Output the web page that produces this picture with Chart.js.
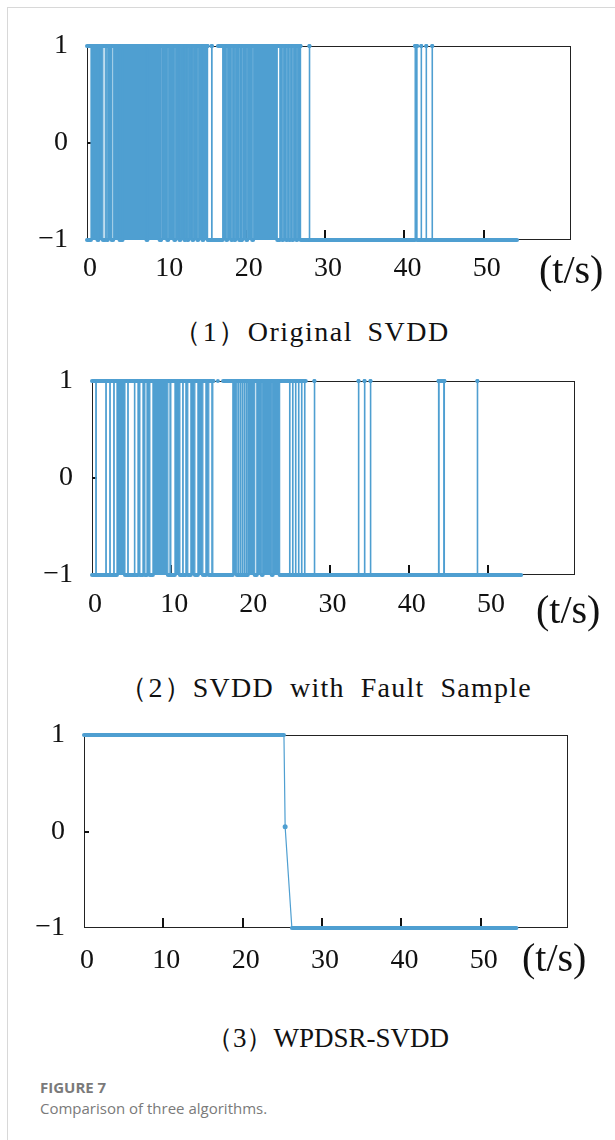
<!DOCTYPE html>
<html>
<head>
<meta charset="utf-8">
<script src="https://cdn.jsdelivr.net/npm/chart.js@4.4.1/dist/chart.umd.min.js"></script>
<style>
  body { margin: 0; width: 615px; height: 1140px; background: #fff; position: relative; overflow: hidden;
         font-family: "Liberation Serif", "Times New Roman", serif; color: #111; }
  .frame { position: absolute; left: 7px; top: 7px; width: 700px; height: 1200px;
           border-left: 1px solid #d8d8d8; border-top: 1px solid #d8d8d8; }
  canvas { position: absolute; left: 0; }
  .unit { position: absolute; font-size: 40px; line-height: 1; }
  .cap  { position: absolute; width: 615px; text-align: center; font-size: 28px; line-height: 1; white-space: pre; }
  .fig  { position: absolute; left: 40px; font-family: "Open Sans", "Noto Sans", sans-serif; color: #7a7a7a; font-size: 15px; }
</style>
</head>
<body>
<div class="frame"></div>

<canvas id="c1" width="615" height="300" style="top:0px"></canvas>
<div class="unit" style="left:539px;top:250px">(t/s)</div>
<div class="cap" style="left:4px;top:318px;letter-spacing:1.5px;word-spacing:6px">（1）Original SVDD</div>

<canvas id="c2" width="615" height="300" style="top:340px"></canvas>
<div class="unit" style="left:536px;top:590px">(t/s)</div>
<div class="cap" style="left:18px;top:674px;letter-spacing:1.2px;word-spacing:8px">（2）SVDD with Fault Sample</div>

<canvas id="c3" width="615" height="300" style="top:690px"></canvas>
<div class="unit" style="left:522px;top:938px">(t/s)</div>
<div class="cap" style="left:20px;top:1025px;font-size:27px">（3）WPDSR-SVDD</div>

<div class="fig" style="top:1077px;font-weight:700">FIGURE 7</div>
<div class="fig" style="top:1098px">Comparison of three algorithms.</div>

<script>
const X_TICKS = [0, 10, 20, 30, 40, 50];
const Y_TICKS = [-1, 0, 1];
const X_MAX = 61;

// (1) Original SVDD: intervals where the output is +1
const SVDD_RUNS = [
  [0.50, 1.32], [1.45, 2.00], [2.30, 2.50], [2.62, 3.10], [3.30, 4.10], [4.22, 4.35], [4.48, 7.50],
  [7.62, 9.15], [9.28, 9.33], [9.45, 10.12], [10.24, 11.00], [11.12, 11.65], [11.77, 12.28],
  [12.40, 12.65], [12.77, 13.28], [13.40, 13.90], [14.02, 14.55], [14.67, 15.20], [15.70, 15.76],
  [17.10, 17.55], [17.67, 18.18], [18.30, 18.57], [18.69, 19.18], [19.30, 19.36], [19.48, 19.54],
  [19.66, 20.08], [20.20, 20.82], [20.94, 23.98], [24.30, 24.60], [24.72, 25.10], [25.22, 25.48],
  [25.60, 25.86], [25.98, 26.38], [26.50, 26.92], [28.02, 28.07],
  [41.35, 41.60], [42.12, 42.16], [42.75, 42.79], [43.50, 43.54]
];
const SVDD_TOP = [[0, 15.2], [15.72, 15.74], [16.5, 26.9], [28.05, 28.06],
  [41.35, 41.6], [42.14, 42.15], [42.77, 42.78], [43.52, 43.53]];
const SVDD_END = 54.2;

// (2) SVDD with fault sample
const FAULT_RUNS = [
  [0.48, 0.54], [1.75, 1.80], [2.25, 2.30], [2.75, 2.80], [3.15, 4.16], [4.52, 4.57], [5.36, 5.41],
  [5.80, 6.05], [6.43, 6.68], [6.94, 7.31], [7.69, 9.58], [9.84, 9.96], [10.47, 11.10], [11.46, 11.51],
  [11.85, 12.10], [12.48, 12.99], [13.37, 14.00], [14.38, 14.75], [15.13, 15.26],
  [17.78, 18.29], [18.45, 18.50], [18.70, 18.75], [18.95, 19.00], [19.20, 19.25], [19.45, 19.50],
  [19.67, 20.55], [20.81, 21.44], [21.56, 22.70], [22.82, 23.70], [24.95, 25.00], [25.33, 25.38],
  [25.70, 25.75], [26.08, 26.13], [26.46, 26.51], [26.84, 26.89], [28.08, 28.13],
  [33.65, 33.70], [34.41, 34.46], [35.16, 35.21], [43.76, 43.84], [44.42, 44.51], [48.66, 48.71]
];
const FAULT_TOP = [[0, 15.35], [15.9, 15.91], [16.55, 27.0], [28.1, 28.11], [33.67, 33.68],
  [34.43, 34.44], [35.18, 35.19], [43.78, 44.5], [48.68, 48.69]];
const FAULT_END = 54.2;

// (3) WPDSR-SVDD
const WPDSR_T = [0, 25.2, 25.35, 26.2, 54.5];
const WPDSR_Y = [1, 1, 0.05, -1, -1];

const BLUE = "#4f9fd1";
const FONT = "'Liberation Serif', 'Times New Roman', serif";

function runsToPoints(runs, end) {
  const pts = [{ x: 0, y: -1 }];
  runs.forEach(([a, b]) => {
    pts.push({ x: a, y: -1 }, { x: a, y: 1 }, { x: b, y: 1 }, { x: b, y: -1 });
  });
  pts.push({ x: end, y: -1 });
  return pts;
}

function bandsToPoints(bands) {
  const pts = [];
  bands.forEach(([a, b]) => pts.push({ x: a, y: 1 }, { x: b, y: 1 }, { x: b, y: null }));
  return pts;
}

const boxPlugin = {
  id: "box",
  beforeDatasetsDraw(chart) {
    const { ctx, chartArea: a, scales } = chart;
    ctx.save();
    ctx.strokeStyle = "#222";
    ctx.lineWidth = 1;
    ctx.strokeRect(a.left + 0.5, a.top + 0.5, a.width - 1, a.height - 1);
    ctx.lineWidth = 2;
    ctx.strokeStyle = "#111";
    ctx.beginPath();
    X_TICKS.forEach(v => {
      if (v === 0) return;
      const x = Math.round(scales.x.getPixelForValue(v));
      ctx.moveTo(x, a.bottom);
      ctx.lineTo(x, a.bottom - 10);
    });
    const y0 = Math.round(scales.y.getPixelForValue(0));
    ctx.moveTo(a.left, y0);
    ctx.lineTo(a.left + 5, y0);
    ctx.stroke();
    ctx.restore();
  }
};

function makePanel(id, datasets, box) {
  new Chart(document.getElementById(id), {
    type: "line",
    data: { datasets },
    options: {
      responsive: false,
      animation: false,
      events: [],
      layout: { padding: { top: box.top, right: 615 - box.right, left: 0, bottom: 0 } },
      plugins: { legend: { display: false }, tooltip: { enabled: false } },
      scales: {
        x: {
          type: "linear", min: 0, max: X_MAX,
          afterBuildTicks: s => { s.ticks = X_TICKS.map(v => ({ value: v })); },
          afterFit: s => { s.height = box.axisH; },
          grid: { display: false, drawTicks: false },
          border: { display: false },
          ticks: { padding: box.xPad, labelOffset: 3, color: "#111", font: { family: FONT, size: 28 },
                   maxRotation: 0, autoSkip: false }
        },
        y: {
          type: "linear", min: -1, max: 1,
          afterBuildTicks: s => { s.ticks = Y_TICKS.map(v => ({ value: v })); },
          afterFit: s => { s.width = box.left; },
          grid: { display: false, drawTicks: false },
          border: { display: false },
          ticks: { padding: 19, color: "#111", font: { family: FONT, size: 28 },
                   callback: v => v < 0 ? "\u2212" + (-v) : String(v) }
        }
      }
    },
    plugins: [boxPlugin]
  });
}

const lineStyle = {
  borderColor: BLUE,
  backgroundColor: BLUE,
  borderCapStyle: "round",
  pointRadius: 0,
  clip: false,
  segment: { borderWidth: c => c.p0.parsed.y === c.p1.parsed.y ? 4 : 1.2 }
};

makePanel("c1", [
  { ...lineStyle, data: runsToPoints(SVDD_RUNS, SVDD_END), fill: { value: -1 } },
  { ...lineStyle, data: bandsToPoints(SVDD_TOP), fill: false, borderWidth: 4, segment: {} }
], { top: 46, right: 571, left: 87, axisH: 60, xPad: 12 });

makePanel("c2", [
  { ...lineStyle, data: runsToPoints(FAULT_RUNS, FAULT_END), fill: { value: -1 } },
  { ...lineStyle, data: bandsToPoints(FAULT_TOP), fill: false, borderWidth: 4, segment: {} }
], { top: 41, right: 575, left: 92, axisH: 65, xPad: 13 });

makePanel("c3", [
  { ...lineStyle, fill: false,
    data: WPDSR_T.map((t, i) => ({ x: t, y: WPDSR_Y[i] })),
    pointRadius: c => (c.raw && c.raw.y > -1 && c.raw.y < 1) ? 2.5 : 0,
    pointBackgroundColor: BLUE, pointBorderWidth: 0 }
], { top: 45, right: 568, left: 84, axisH: 62, xPad: 16 });
</script>
</body>
</html>
